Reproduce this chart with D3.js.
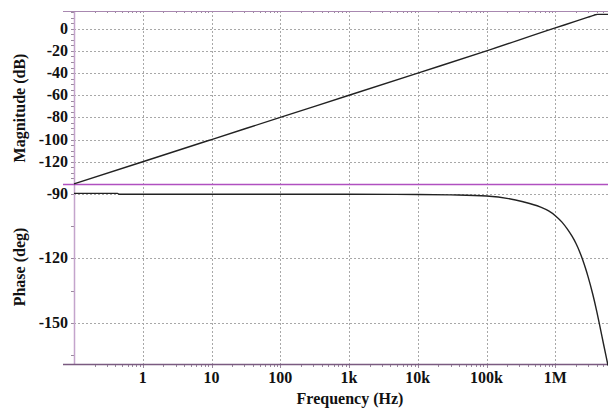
<!DOCTYPE html>
<html>
<head>
<meta charset="utf-8">
<script src="https://cdn.jsdelivr.net/npm/d3@7"></script>
<style>
  body { margin: 0; background: #fff; }
</style>
</head>
<body>
<script>
// data
var magFreq = [0.1, 1, 10, 100, 1e3, 1e4, 1e5, 1e6, 2e6, 3e6, 3.5e6, 3.8e6, 4.1e6, 5.84e6]
var magDb = [-140, -120, -100, -80, -60, -40, -20, 0.8, 6.8, 10.4, 11.8, 12.6, 13, 13]

var phFreq = [0.1, 0.43, 0.45, 1, 1e3, 1e4, 3e4, 1e5, 3.4e5, 6e5, 8e5, 1e6, 1.25e6, 1.5e6, 1.75e6, 2e6, 2.25e6, 2.5e6, 2.75e6, 3e6, 3.5e6, 4e6, 4.5e6, 5e6, 5.5e6, 5.84e6]
var phDeg = [-89.6, -89.6, -90, -90, -90, -90.1, -90.3, -90.8, -93.5, -95.9, -97.8, -100, -103, -106.3, -109.6, -113, -116.7, -120.6, -124.6, -128.6, -136.6, -144.6, -152.4, -159.6, -166, -170]

var freqTicks = [1, 10, 100, 1e3, 1e4, 1e5, 1e6]
var freqLabels = ['1', '10', '100', '1k', '10k', '100k', '1M']
var magTicks = [0, -20, -40, -60, -80, -100, -120]
var phTicks = [-90, -120, -150]

var fullWidth = 608
var fullHeight = 409
var pLeft = 74, pRight = 608, pTop = 11, pMid = 184, pBottom = 364
var serif = "'Liberation Serif', 'Times New Roman', 'DejaVu Serif', serif"

var svg = d3.select('body')
  .append('svg')
  .attr('width', fullWidth)
  .attr('height', fullHeight)

var x = d3.scaleLog().domain([0.1, 5.84e6]).range([pLeft, pRight])
var yMag = d3.scaleLinear().domain([-140.1, 16]).range([pMid, pTop])
var yPh = d3.scaleLinear().domain([-169.3, -85.2]).range([pBottom, pMid])

// minor log ticks
var minor = []
for (var dec = 0.1; dec < 1e7; dec *= 10) {
  for (var k = 2; k < 10; k++) {
    var v = dec * k
    if (v < 5.84e6) minor.push(v)
  }
}

var grid = svg.append('g')
  .attr('stroke', '#a8a8a8')
  .attr('stroke-dasharray', '2,2')
  .attr('stroke-width', 1)

grid.selectAll('.vg').data(freqTicks).enter().append('line')
  .attr('x1', (d) => Math.round(x(d)) + 0.5).attr('x2', (d) => Math.round(x(d)) + 0.5)
  .attr('y1', pTop).attr('y2', pBottom)

grid.selectAll('.mg').data(magTicks).enter().append('line')
  .attr('x1', pLeft).attr('x2', pRight)
  .attr('y1', (d) => Math.round(yMag(d)) + 0.5).attr('y2', (d) => Math.round(yMag(d)) + 0.5)

grid.selectAll('.pg').data(phTicks).enter().append('line')
  .attr('x1', pLeft).attr('x2', pRight)
  .attr('y1', (d) => Math.round(yPh(d)) + 0.5).attr('y2', (d) => Math.round(yPh(d)) + 0.5)

// small ticks
var ticks = svg.append('g').attr('stroke', '#9a8a9e').attr('stroke-width', 1)

ticks.selectAll('.bt').data(minor.concat(freqTicks)).enter().append('line')
  .attr('x1', (d) => Math.round(x(d)) + 0.5).attr('x2', (d) => Math.round(x(d)) + 0.5)
  .attr('y1', pBottom).attr('y2', (d) => pBottom + (freqTicks.indexOf(d) >= 0 ? 4 : 3))

ticks.selectAll('.tt').data(minor).enter().append('line')
  .attr('x1', (d) => Math.round(x(d)) + 0.5).attr('x2', (d) => Math.round(x(d)) + 0.5)
  .attr('y1', pTop).attr('y2', pTop + 2)

ticks.selectAll('.mt').data(d3.range(15, -141, -5)).enter().append('line')
  .attr('x1', pLeft - 3).attr('x2', pLeft)
  .attr('y1', (d) => Math.round(yMag(d)) + 0.5).attr('y2', (d) => Math.round(yMag(d)) + 0.5)

ticks.selectAll('.pt').data([-90, -105, -120, -135, -150, -165]).enter().append('line')
  .attr('x1', pLeft - 3).attr('x2', pLeft)
  .attr('y1', (d) => Math.round(yPh(d)) + 0.5).attr('y2', (d) => Math.round(yPh(d)) + 0.5)

// frame lines
svg.append('line').attr('x1', pLeft + 0.5).attr('x2', pLeft + 0.5).attr('y1', pTop).attr('y2', pBottom)
  .attr('stroke', '#c4a4cc').attr('stroke-width', 1.5)
svg.append('line').attr('x1', pLeft - 11).attr('x2', pRight).attr('y1', pTop + 0.5).attr('y2', pTop + 0.5)
  .attr('stroke', '#a888b0').attr('stroke-width', 1)
svg.append('line').attr('x1', pLeft - 11).attr('x2', pRight).attr('y1', pMid + 0.5).attr('y2', pMid + 0.5)
  .attr('stroke', '#b050c0').attr('stroke-width', 1.5)
svg.append('line').attr('x1', pLeft - 11).attr('x2', pRight).attr('y1', pBottom + 0.5).attr('y2', pBottom + 0.5)
  .attr('stroke', '#7a5a80').attr('stroke-width', 1.5)

// curves
var magLine = d3.line()
  .x((d, i) => x(magFreq[i]))
  .y((d) => yMag(d))
  .curve(d3.curveMonotoneX)

var phLine = d3.line()
  .x((d, i) => x(phFreq[i]))
  .y((d) => yPh(d))
  .curve(d3.curveMonotoneX)

svg.append('path').attr('d', magLine(magDb))
  .attr('fill', 'none').attr('stroke', '#222').attr('stroke-width', 1.4)

svg.append('path').attr('d', phLine(phDeg))
  .attr('fill', 'none').attr('stroke', '#222').attr('stroke-width', 1.4)

// tick labels
var labels = svg.append('g')
  .attr('font-family', serif)
  .attr('font-weight', 'bold')
  .attr('fill', '#111')

labels.selectAll('.xl').data(freqTicks).enter().append('text')
  .attr('x', (d) => x(d)).attr('y', 383)
  .attr('text-anchor', 'middle').attr('font-size', 16)
  .text((d, i) => freqLabels[i])

labels.selectAll('.ml').data(magTicks).enter().append('text')
  .attr('x', 68).attr('y', (d) => yMag(d) + 5)
  .attr('text-anchor', 'end').attr('font-size', 16)
  .text((d) => d)

labels.selectAll('.pl').data(phTicks).enter().append('text')
  .attr('x', 68).attr('y', (d) => yPh(d) + 5)
  .attr('text-anchor', 'end').attr('font-size', 16)
  .text((d) => d)

// axis titles
labels.append('text').attr('x', 350).attr('y', 404)
  .attr('text-anchor', 'middle').attr('font-size', 16)
  .text('Frequency (Hz)')

labels.append('text')
  .attr('transform', 'translate(25,108) rotate(-90)')
  .attr('text-anchor', 'middle').attr('font-size', 16)
  .text('Magnitude (dB)')

labels.append('text')
  .attr('transform', 'translate(25,267) rotate(-90)')
  .attr('text-anchor', 'middle').attr('font-size', 16)
  .text('Phase (deg)')
</script>
</body>
</html>
